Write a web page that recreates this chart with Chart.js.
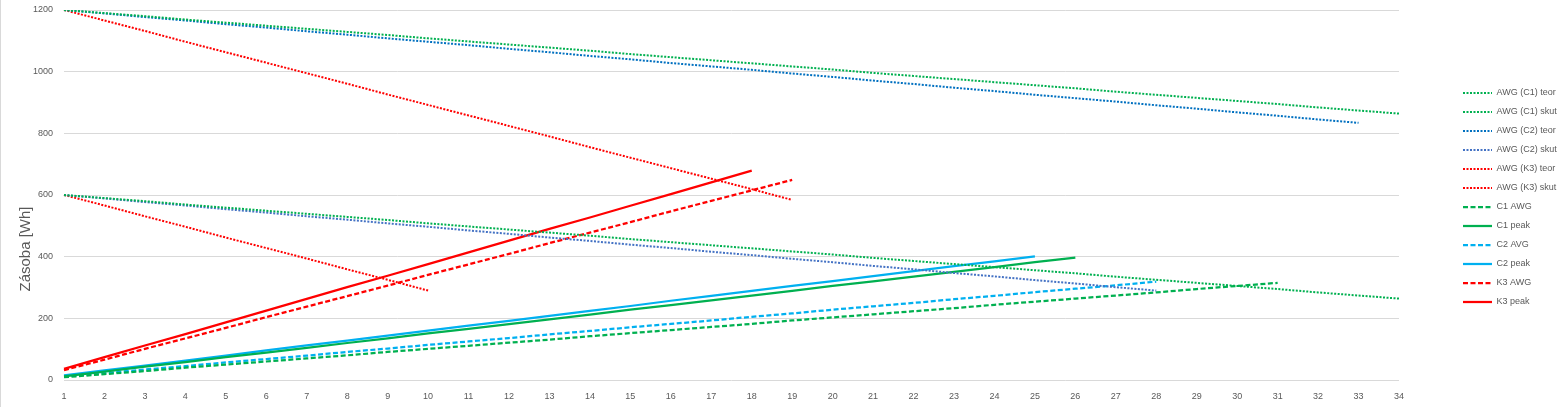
<!DOCTYPE html>
<html>
<head>
<meta charset="utf-8">
<script src="https://cdn.jsdelivr.net/npm/chart.js@4/dist/chart.umd.min.js"></script>
<style>
  body { margin: 0; background: #fff; }
</style>
</head>
<body>
<canvas id="zasobaChart" width="1561" height="407"></canvas>
<script>
// dny (osa x)
const dny = ["1","2","3","4","5","6","7","8","9","10","11","12","13","14","15","16","17",
  "18","19","20","21","22","23","24","25","26","27","28","29","30","31","32","33","34"];
const osaY = [0, 200, 400, 600, 800, 1000, 1200];

// AWG krivky (teor / skut)
const c1Teor = [1200,1190,1180,1169,1159,1149,1139,1129,1119,1108,1098,1088,1078,1068,1057,1047,1037,
  1027,1017,1007,996,986,976,966,956,946,935,925,915,905,895,884,874,864];
const c1Skut = [600,590,580,569,559,549,539,529,519,508,498,488,478,468,457,447,437,
  427,417,407,396,386,376,366,356,346,335,325,315,305,295,284,274,264];
const c2Teor = [1200,1189,1177,1166,1154,1143,1131,1120,1108,1097,1086,1074,1063,1051,1040,1028,1017,
  1006,994,983,971,960,948,937,925,914,903,891,880,868,857,845,834];
const c2Skut = [600,589,577,566,554,543,531,520,508,497,485,474,462,451,439,428,416,
  405,393,382,370,359,347,336,324,313,301,290];
const k3Teor = [1200,1166,1132,1097,1063,1029,995,961,926,892,858,824,790,755,721,687,653,619,584];
const k3Skut = [600,566,531,497,462,428,394,359,325,290];

// spotreba
const c1Awg = [9,19,29,40,50,60,70,80,91,101,111,121,131,142,152,162,172,182,193,203,213,223,233,244,
  254,264,274,284,295,305,315];
const c1Peak = [12,27,43,58,74,89,104,120,135,151,166,181,197,212,228,243,258,274,289,305,320,335,351,
  366,382,397];
const c2Avg = [11,22,34,45,57,68,79,91,102,114,125,136,148,159,171,182,193,205,216,228,239,250,262,273,
  285,296,307,319];
const c2Peak = [15,31,47,63,79,96,112,128,144,160,176,192,208,224,240,257,273,289,305,321,337,353,369,
  385,401];
const k3Awg = [32,66,101,135,169,204,238,272,306,341,375,409,444,478,512,547,581,615,649];
const k3Peak = [36,74,112,149,187,225,263,301,338,376,414,452,490,527,565,603,641,679];

const zelena = "#00B050";
const modra = "#0070C0";
const modra2 = "#4472C4";
const svetleModra = "#00B0F0";
const cervena = "#FF0000";
const tecky = [2, 1.5];
const carky = [5, 2.5];
const sedy = "#595959";

function serie(label, data, color, dash, width) {
  return {
    label: label,
    data: data,
    borderColor: color,
    backgroundColor: color,
    borderDash: dash,
    borderWidth: width,
    pointRadius: 0,
    tension: 0,
    fill: false,
  };
}

// y titulek a levy okraj
const doplnky = {
  id: "doplnky",
  afterLayout(chart) {
    const lg = chart.legend;
    const w = lg.width;
    lg.left = 1453;
    lg.right = lg.left + w;
    lg.top -= 11;
    lg.bottom -= 11;
  },
  afterDraw(chart) {
    const c = chart.ctx;
    c.save();
    c.strokeStyle = "#d9d9d9";
    c.lineWidth = 1;
    c.beginPath();
    c.moveTo(0.5, 0);
    c.lineTo(0.5, chart.height);
    c.stroke();
    c.translate(26, 249);
    c.rotate(-Math.PI / 2);
    c.fillStyle = sedy;
    c.font = "15px 'Liberation Sans'";
    c.textAlign = "center";
    c.textBaseline = "middle";
    c.fillText("Zásoba [Wh]", 0, 0);
    c.restore();
  },
};

const ctx = document.getElementById("zasobaChart").getContext("2d");
new Chart(ctx, {
  type: "line",
  data: {
    labels: dny,
    datasets: [
      serie("AWG (C1) teor", c1Teor, zelena, tecky, 2),
      serie("AWG (C1) skut", c1Skut, zelena, tecky, 2),
      serie("AWG (C2) teor", c2Teor, modra, tecky, 2),
      serie("AWG (C2) skut", c2Skut, modra2, tecky, 2),
      serie("AWG (K3) teor", k3Teor, cervena, tecky, 2),
      serie("AWG (K3) skut", k3Skut, cervena, tecky, 2),
      serie("C1 AWG", c1Awg, zelena, carky, 2.25),
      serie("C1 peak", c1Peak, zelena, [], 2.25),
      serie("C2 AVG", c2Avg, svetleModra, carky, 2.25),
      serie("C2 peak", c2Peak, svetleModra, [], 2.25),
      serie("K3 AWG", k3Awg, cervena, carky, 2.25),
      serie("K3 peak", k3Peak, cervena, [], 2.25),
    ],
  },
  options: {
    responsive: false,
    animation: false,
    layout: {
      padding: { top: 10, left: 0, right: 0, bottom: 0 },
    },
    plugins: {
      legend: {
        display: true,
        position: "right",
        labels: {
          color: sedy,
          font: { family: "'Liberation Sans'", size: 9 },
          usePointStyle: true,
          pointStyle: "line",
          pointStyleWidth: 29,
          padding: 10,
          generateLabels(chart) {
            const items = Chart.defaults.plugins.legend.labels.generateLabels(chart);
            items.forEach((it) => {
              const ds = chart.data.datasets[it.datasetIndex];
              it.lineDash = ds.borderDash;
              it.lineWidth = ds.borderWidth;
              it.strokeStyle = ds.borderColor;
            });
            return items;
          },
        },
      },
      tooltip: { enabled: false },
    },
    scales: {
      x: {
        offset: false,
        grid: { display: false },
        border: { display: false },
        ticks: {
          color: sedy,
          font: { family: "'Liberation Sans'", size: 9 },
          maxRotation: 0,
          autoSkip: false,
          padding: 3,
        },
        afterFit(scale) {
          scale.height = 27;
          scale.paddingRight = 162;
        },
      },
      y: {
        min: 0,
        max: 1200,
        grid: { color: "#d9d9d9", drawTicks: false },
        border: { display: false },
        afterBuildTicks(scale) {
          scale.ticks = osaY.map((v) => ({ value: v }));
        },
        ticks: {
          color: sedy,
          font: { family: "'Liberation Sans'", size: 9 },
          padding: 11,
          callback: (v) => String(v),
        },
        afterFit(scale) {
          scale.width = 64;
          scale.paddingTop = 0;
          scale.paddingBottom = 0;
        },
      },
    },
  },
  plugins: [doplnky],
});
</script>
</body>
</html>
